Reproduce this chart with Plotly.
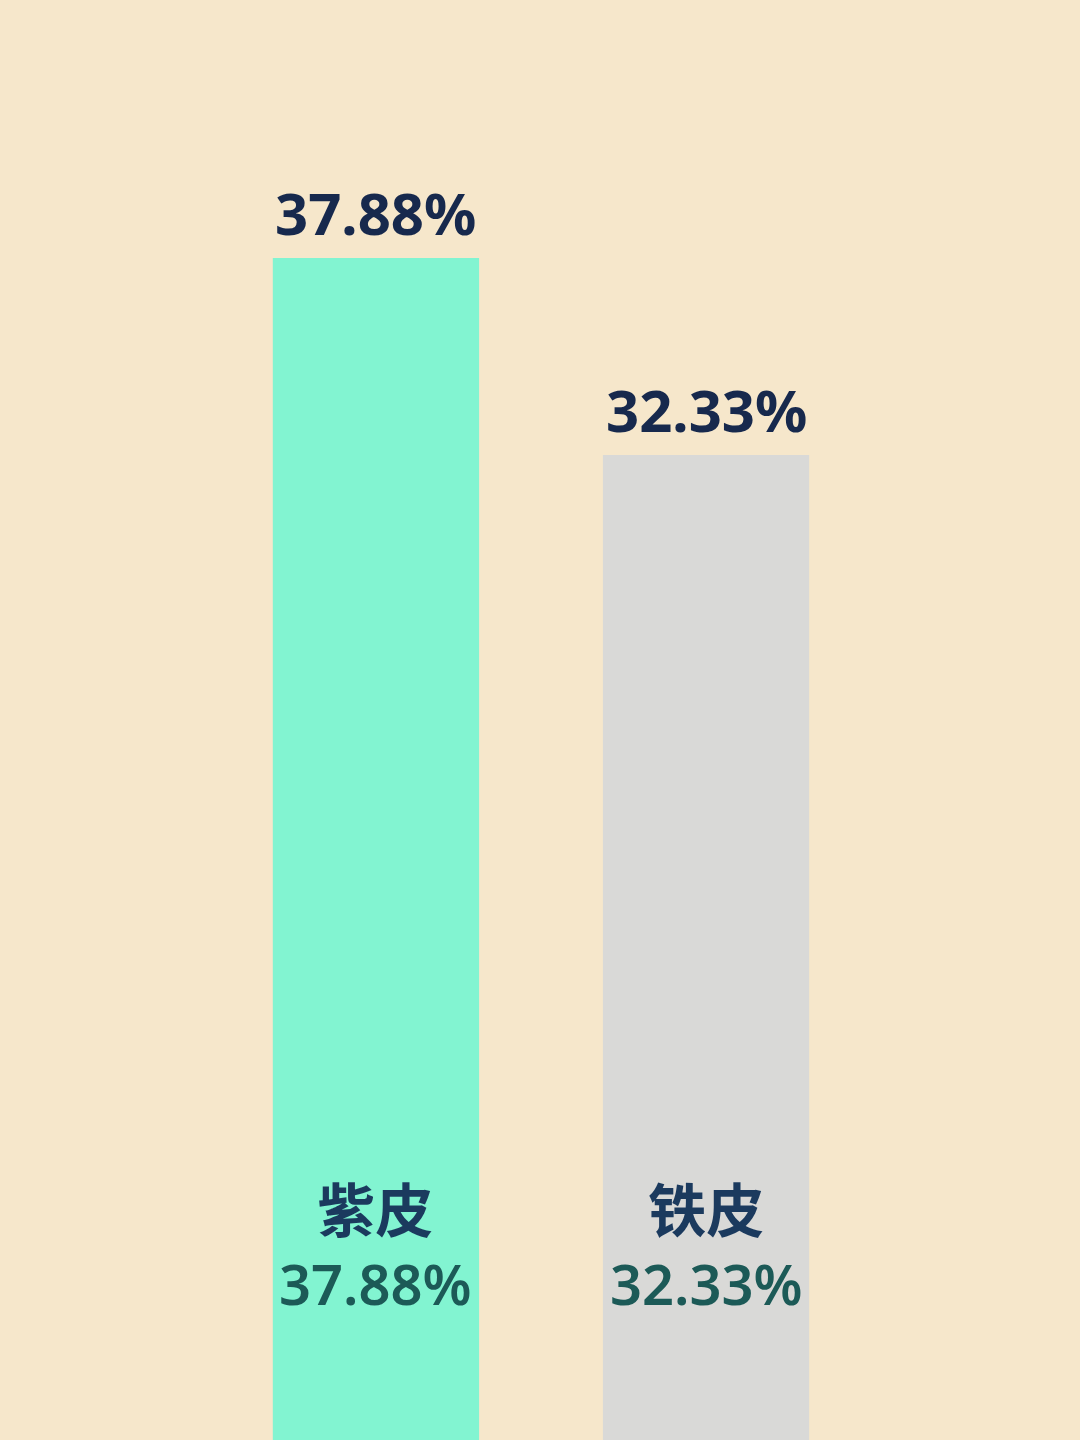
import plotly.graph_objects as go

# data
categories = ["紫皮", "铁皮"]
shares = [37.88, 32.33]
bar_colors = ["#82F4D1", "#D9D9D7"]

bg = "#F6E7CB"
navy = "#17294D"
name_color = "#1B3A5E"
teal_text = "#1C5A57"

fig = go.Figure()
fig.add_trace(go.Bar(
    x=categories,
    y=shares,
    marker=dict(color=bar_colors, line=dict(width=0)),
    width=0.625,
    hoverinfo="skip",
))

for cat, val in zip(categories, shares):
    # value label above the bar
    fig.add_annotation(
        x=cat, y=val, xref="x", yref="y",
        text=f"{val:.2f}%", showarrow=False,
        yanchor="bottom", yshift=4,
        font=dict(family="Noto Sans, Open Sans, sans-serif", size=58, color=navy, weight="bold"),
    )
    # name + value inside the bar, near the bottom
    fig.add_annotation(
        x=cat, y=0.1368, xref="x", yref="paper",
        text=(f"<span style='font-family:Noto Sans CJK SC;font-size:58px;font-weight:bold;color:{name_color}'>{cat}</span>"
              f"<br><span style='font-size:56px;color:{teal_text}'>{val:.2f}%</span>"),
        showarrow=False, yanchor="middle",
        font=dict(family="Noto Sans, Open Sans, sans-serif", size=56, color=teal_text, weight=600),
    )

fig.update_layout(
    width=1080, height=1440,
    margin=dict(l=0, r=0, t=0, b=0),
    paper_bgcolor=bg, plot_bgcolor=bg,
    showlegend=False,
    xaxis=dict(range=[-1.139, 2.133], visible=False),
    yaxis=dict(range=[4.57, 45.15], visible=False),
)

fig.write_html("out.html", config={"displayModeBar": False},
               post_script="document.body.style.margin='0';")
